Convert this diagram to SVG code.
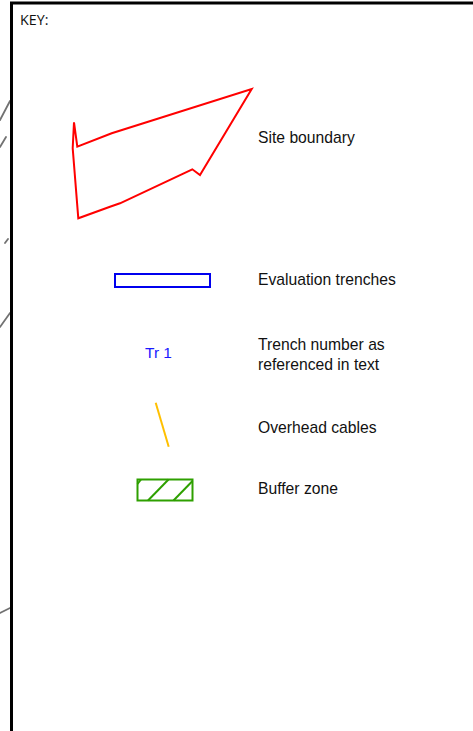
<svg xmlns="http://www.w3.org/2000/svg" width="473" height="731" viewBox="0 0 473 731">
  <style>
    .frame { fill: none; stroke: #000; stroke-width: 3; }
    .label { font-family: "Liberation Sans", Arial, sans-serif; font-size: 15.7px; fill: #111; }
    .title { font-family: "Open Sans", "DejaVu Sans", sans-serif; font-size: 14.3px; fill: #111; }
    .mapline { stroke: #444; stroke-width: 1.8; stroke-linecap: round; opacity: 0.75; }
  </style>
  <rect width="473" height="731" fill="#fff"/>

  <!-- fragments of the underlying map showing past the key's edge -->
  <g id="map-edge">
    <line class="mapline" x1="0" y1="120" x2="10" y2="101"/>
    <line class="mapline" x1="0" y1="147" x2="6" y2="137"/>
    <line class="mapline" x1="5" y1="243" x2="8" y2="239"/>
    <line class="mapline" x1="0" y1="327" x2="10" y2="313"/>
    <line class="mapline" x1="0" y1="613" x2="10" y2="608"/>
  </g>

  <!-- key panel frame -->
  <g id="key-frame">
    <line class="frame" x1="11.5" y1="2" x2="11.5" y2="731"/>
    <line class="frame" x1="10" y1="3" x2="473" y2="3"/>
    <text class="title" x="20" y="25">KEY:</text>
  </g>

  <g id="site-boundary">
    <polygon points="74,122.3 77.3,146.7 111.7,133.3 251.7,89 200,175 192.3,169.3 120,203.3 110,206.7 78.3,218.3 72.7,148.3"
             fill="none" stroke="#ff0000" stroke-width="2" stroke-linejoin="miter"/>
    <text class="label" x="258" y="142.5">Site boundary</text>
  </g>

  <g id="evaluation-trenches">
    <rect x="115" y="274" width="95" height="13" fill="none" stroke="#0000ee" stroke-width="2"/>
    <text class="label" x="258" y="284.5">Evaluation trenches</text>
  </g>

  <g id="trench-number">
    <text x="158.5" y="357.5" text-anchor="middle" font-family="'Liberation Sans', Arial, sans-serif" font-size="15.5px" fill="#1a1aff">Tr 1</text>
    <text class="label" x="258" y="350">Trench number as</text>
    <text class="label" x="258" y="369.5">referenced in text</text>
  </g>

  <g id="overhead-cables">
    <line x1="155.7" y1="402.7" x2="168.7" y2="446.7" stroke="#ffc000" stroke-width="2"/>
    <text class="label" x="258" y="432.5">Overhead cables</text>
  </g>

  <g id="buffer-zone">
    <g stroke="#2ea000" stroke-width="2" fill="none">
      <rect x="137.5" y="479.5" width="55" height="21"/>
      <line x1="137.5" y1="484" x2="141" y2="479.5"/>
      <line x1="148" y1="500.5" x2="168.5" y2="479.5"/>
      <line x1="173.5" y1="500.5" x2="192.5" y2="481"/>
    </g>
    <text class="label" x="258" y="493.5">Buffer zone</text>
  </g>
</svg>
